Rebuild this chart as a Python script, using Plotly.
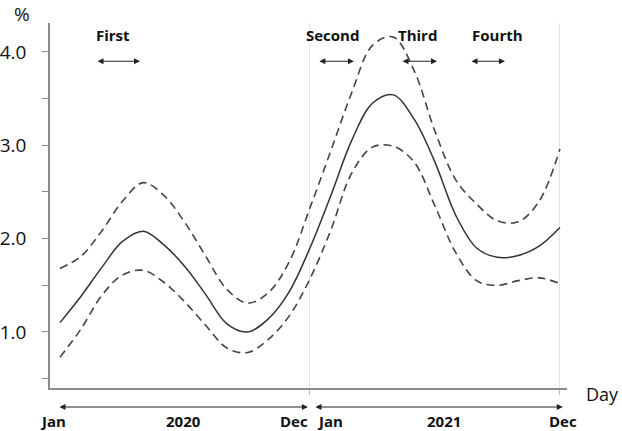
import plotly.graph_objects as go

# month index: 0 = Jan 2020, 12 = end of 2020 / start 2021, 24 = Dec 2021
months = list(range(25))
central = [1.10, 1.38, 1.69, 1.97, 2.08, 1.93, 1.70, 1.40, 1.09, 1.00, 1.14, 1.43, 1.90,
           2.46, 3.05, 3.45, 3.54, 3.28, 2.82, 2.25, 1.90, 1.80, 1.82, 1.92, 2.12]
upper = [1.68, 1.81, 2.08, 2.40, 2.60, 2.46, 2.17, 1.81, 1.46, 1.31, 1.42, 1.75, 2.33,
         2.94, 3.56, 4.07, 4.16, 3.80, 3.15, 2.63, 2.37, 2.19, 2.18, 2.40, 2.96]
lower = [0.73, 1.03, 1.39, 1.61, 1.66, 1.53, 1.32, 1.07, 0.83, 0.78, 0.92, 1.17, 1.57,
         2.09, 2.70, 2.98, 2.99, 2.82, 2.35, 1.85, 1.55, 1.50, 1.55, 1.58, 1.52]

ytick_vals = [0.5, 1.0, 1.5, 2.0, 2.5, 3.0, 3.5, 4.0]
ytick_text = ["", "1.0", "", "2.0", "", "3.0", "", "4.0"]

wave_labels = ["First", "Second", "Third", "Fourth"]
wave_label_x = [2.54, 13.1, 17.18, 21.02]
wave_arrow_start = [1.73, 12.38, 16.37, 19.68]
wave_arrow_end = [3.84, 14.11, 18.10, 21.36]

month_labels = ["Jan", "Dec", "Jan", "Dec"]
month_label_x = [-0.34, 11.23, 12.96, 24.14]
year_labels = ["2020", "2021"]
year_label_x = [5.95, 18.43]
year_arrow_start = [-0.1, 12.19]
year_arrow_end = [11.9, 24.14]

FONT = "Open Sans"

fig = go.Figure()
fig.add_trace(go.Scatter(x=months, y=upper, mode="lines", line_shape="spline",
                         line=dict(color="#444444", width=1.6, dash="8px,5px"), showlegend=False))
fig.add_trace(go.Scatter(x=months, y=central, mode="lines", line_shape="spline",
                         line=dict(color="#333333", width=1.5), showlegend=False))
fig.add_trace(go.Scatter(x=months, y=lower, mode="lines", line_shape="spline",
                         line=dict(color="#444444", width=1.6, dash="8px,5px"), showlegend=False))

annotations = []
for t, xc in zip(wave_labels, wave_label_x):
    annotations.append(dict(x=xc, y=4.18, xref="x", yref="y", text=f"<b>{t}</b>", showarrow=False,
                            font=dict(family=FONT, size=15, color="#111")))
for a, b in zip(wave_arrow_start, wave_arrow_end):
    annotations.append(dict(x=b, y=3.90, ax=a, ay=3.90, xref="x", yref="y", axref="x", ayref="y",
                            text="", showarrow=True, arrowside="end+start", arrowhead=2,
                            arrowsize=1, arrowwidth=1.2, arrowcolor="#222", standoff=0, startstandoff=0))
for t, xc in zip(month_labels + year_labels, month_label_x + year_label_x):
    annotations.append(dict(x=xc, y=0, xref="x", yref="paper", yanchor="middle", xanchor="center",
                            yshift=-33, borderpad=0, text=f"<b>{t}</b>",
                            showarrow=False, font=dict(family=FONT, size=15, color="#111")))
for a, b in zip(year_arrow_start, year_arrow_end):
    annotations.append(dict(x=b, y=-0.052, ax=a, ay=0, xref="x", yref="paper", axref="x", ayref="pixel",
                            text="", showarrow=True, arrowside="end+start", arrowhead=2,
                            arrowsize=1, arrowwidth=1.2, arrowcolor="#222", standoff=0, startstandoff=0))
annotations.append(dict(x=0, y=1, xref="paper", yref="paper", xanchor="center", yanchor="middle",
                        xshift=-28, yshift=9, text="%", showarrow=False,
                        font=dict(family=FONT, size=19, color="#111")))
annotations.append(dict(x=1, y=0, xref="paper", yref="paper", xanchor="center", yanchor="middle",
                        xshift=35, yshift=-6, text="Day", showarrow=False,
                        font=dict(family=FONT, size=18, color="#111")))

fig.update_layout(
    width=622, height=431,
    margin=dict(l=50, r=55, t=23, b=43),
    paper_bgcolor="white", plot_bgcolor="white",
    annotations=annotations,
    xaxis=dict(range=[-0.48, 24.34], showline=True, linecolor="#8c8c8c", linewidth=1.5,
               tickvals=[12, 24], ticks="outside", ticklen=5, tickcolor="#bbbbbb",
               showticklabels=False, showgrid=True, gridcolor="#e3e3e3", gridwidth=1,
               zeroline=False, fixedrange=True, automargin=False),
    yaxis=dict(range=[0.40, 4.31], showline=True, linecolor="#8c8c8c", linewidth=1.5,
               tickvals=ytick_vals, ticktext=ytick_text, ticks="outside", ticklen=6,
               tickcolor="#8c8c8c", ticklabelstandoff=12, showgrid=False, zeroline=False,
               tickfont=dict(family=FONT, size=19, color="#111"), fixedrange=True,
               automargin=False),
)

fig.write_html("out.html", config={"displayModeBar": False},
               post_script="document.body.style.margin='0';document.body.style.padding='0';")
